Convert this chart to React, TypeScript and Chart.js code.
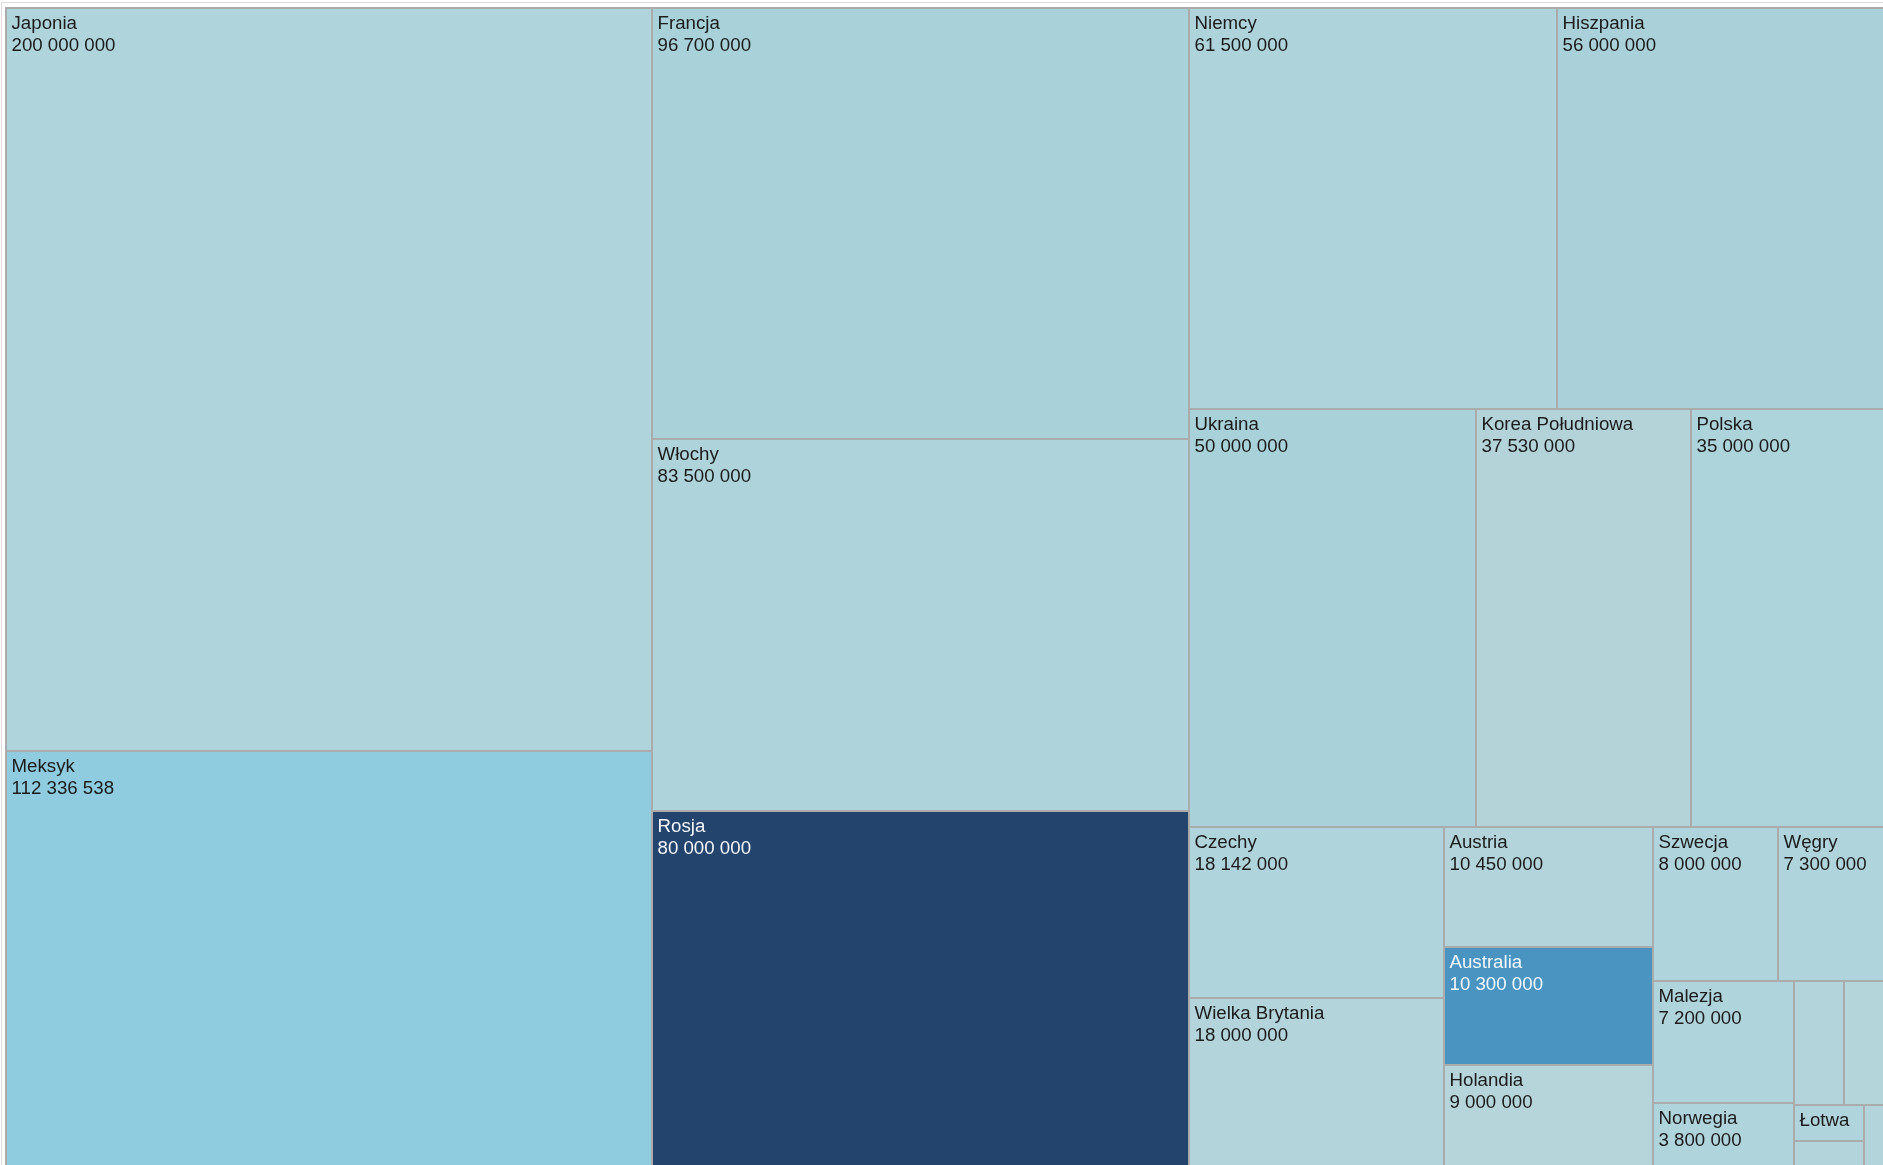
import React, { useEffect, useRef } from "react";
import { Chart, registerables } from "chart.js";

Chart.register(...registerables);

// ---- data ----
const COUNTRIES = [
  "Japonia", "Meksyk", "Francja", "Włochy", "Rosja", "Niemcy", "Hiszpania",
  "Ukraina", "Korea Południowa", "Polska", "Czechy", "Wielka Brytania",
  "Austria", "Australia", "Holandia", "Szwecja", "Węgry", "Malezja",
  "Norwegia", "Litwa", "Słowenia", "Łotwa", "Estonia", "Cypr",
];
const VALUES = [
  200000000, 112336538, 96700000, 83500000, 80000000, 61500000, 56000000,
  50000000, 37530000, 35000000, 18142000, 18000000,
  10450000, 10300000, 9000000, 8000000, 7300000, 7200000,
  3800000, 2600000, 2500000, 1050000, 800000, 750000,
];
// ---- styles (one fill per cell) ----
const FILLS = [
  "#afd4dc", "#8fcce0", "#a8d1da", "#aed3db", "#23446c", "#aed3db", "#aad1da",
  "#a9d1d9", "#b3d3d9", "#add3db", "#b0d4db", "#b2d4da",
  "#b3d4da", "#4a94c2", "#b5d5da", "#b0d4db", "#b0d4dc", "#afd4dc",
  "#b0d4dc", "#b3d4da", "#b4d5da", "#b0d4db", "#b3d4da", "#b3d4da",
];
const DARK_FILLS = ["#23446c", "#4a94c2"];

// treemap domain (aspect of the full map; visible window is smaller)
const MAP_W = 1886;
const MAP_H = 1160;

type Cell = { x0: number; y0: number; x1: number; y1: number };

function squarify(values: number[], W: number, H: number): Cell[] {
  const ratio = (1 + Math.sqrt(5)) / 2;
  const out: Cell[] = new Array(values.length);
  let x0 = 0, y0 = 0, x1 = W, y1 = H;
  let value = values.reduce((a, b) => a + b, 0);
  let i0 = 0, i1 = 0;
  const n = values.length;
  while (i0 < n) {
    const dx = x1 - x0, dy = y1 - y0;
    let sum = values[i1++];
    let minV = sum, maxV = sum;
    const alpha = Math.max(dy / dx, dx / dy) / (value * ratio);
    let beta = sum * sum * alpha;
    let minRatio = Math.max(maxV / beta, beta / minV);
    for (; i1 < n; ++i1) {
      const v = values[i1];
      sum += v;
      if (v < minV) minV = v;
      if (v > maxV) maxV = v;
      beta = sum * sum * alpha;
      const nr = Math.max(maxV / beta, beta / minV);
      if (nr > minRatio) { sum -= v; break; }
      minRatio = nr;
    }
    if (dx < dy) {
      const yy = y0 + (dy * sum) / value;
      const k = dx / sum;
      let cx = x0;
      for (let i = i0; i < i1; i++) {
        const w = values[i] * k;
        out[i] = { x0: cx, y0: y0, x1: cx + w, y1: yy };
        cx += w;
      }
      y0 = yy;
    } else {
      const xx = x0 + (dx * sum) / value;
      const k = dy / sum;
      let cy = y0;
      for (let i = i0; i < i1; i++) {
        const h = values[i] * k;
        out[i] = { x0: x0, y0: cy, x1: xx, y1: cy + h };
        cy += h;
      }
      x0 = xx;
    }
    value -= sum;
    i0 = i1;
  }
  return out;
}

const fmt = (v: number) => String(v).replace(/\B(?=(\d{3})+(?!\d))/g, " ");

const FONT = '18.7px "Liberation Sans", Arial, sans-serif';

const treemapPlugin = {
  id: "treemapCells",
  afterDatasetsDraw(chart: any) {
    const { ctx, chartArea, scales } = chart;
    const xs = scales.x, ys = scales.y;
    const items = chart.data.datasets[0].data as any[];
    ctx.save();
    ctx.beginPath();
    ctx.rect(chartArea.left - 2, chartArea.top - 2, chartArea.right - chartArea.left + 4, chartArea.bottom - chartArea.top + 4);
    ctx.clip();
    const px = items.map((c) => ({
      l: Math.round(xs.getPixelForValue(c.x0)),
      r: Math.round(xs.getPixelForValue(c.x1)),
      t: Math.round(ys.getPixelForValue(c.y0)),
      b: Math.round(ys.getPixelForValue(c.y1)),
    }));
    items.forEach((c, i) => {
      const p = px[i];
      ctx.fillStyle = c.fill;
      ctx.fillRect(p.l, p.t, p.r - p.l, p.b - p.t);
    });
    ctx.strokeStyle = "#ababab";
    ctx.lineWidth = 2;
    items.forEach((c, i) => {
      const p = px[i];
      ctx.strokeRect(p.l, p.t, p.r - p.l, p.b - p.t);
    });
    ctx.font = FONT;
    ctx.textBaseline = "alphabetic";
    ctx.textAlign = "left";
    items.forEach((c, i) => {
      const p = px[i];
      const w = p.r - p.l, h = p.b - p.t;
      ctx.fillStyle = DARK_FILLS.includes(c.fill) ? "#f4f7fb" : "#1b1b1b";
      const nameW = ctx.measureText(c.name).width;
      if (h >= 30 && w >= nameW + 10) {
        ctx.fillText(c.name, p.l + 5.5, p.t + 20.5);
        const label = fmt(c.value);
        const valW = ctx.measureText(label).width;
        if (h >= 48 && w >= valW + 10) ctx.fillText(label, p.l + 5.5, p.t + 42.5);
      }
    });
    ctx.restore();
  },
};

export default function App() {
  const ref = useRef<HTMLCanvasElement | null>(null);
  useEffect(() => {
    document.body.style.margin = "0";
    document.body.style.overflow = "hidden";
    if (!ref.current) return;
    const layout = squarify(VALUES, MAP_W, MAP_H);
    const data = layout.map((c, i) => ({
      x: (c.x0 + c.x1) / 2,
      y: (c.y0 + c.y1) / 2,
      x0: c.x0, x1: c.x1, y0: c.y0, y1: c.y1,
      name: COUNTRIES[i],
      value: VALUES[i],
      fill: FILLS[i],
    }));
    const chart = new Chart(ref.current, {
      type: "scatter",
      data: { datasets: [{ data: data as any, pointRadius: 0, pointHoverRadius: 0 }] },
      options: {
        responsive: false,
        animation: false,
        events: [],
        layout: { padding: { left: 6, top: 8, right: 0, bottom: 0 } },
        scales: {
          x: { type: "linear", min: 0, max: 1877, display: false },
          y: { type: "linear", min: 0, max: 1157, reverse: true, display: false },
        },
        plugins: { legend: { display: false }, tooltip: { enabled: false } },
      },
      plugins: [treemapPlugin],
    });
    return () => chart.destroy();
  }, []);
  return (
    <div style={{ position: "relative", width: 1883, height: 1165, background: "#fff" }}>
      <div
        style={{
          position: "absolute", left: 1, top: 2, right: 0, bottom: 0,
          borderTop: "1px solid #dedede", borderLeft: "1px solid #dedede",
        }}
      />
      <canvas ref={ref} width={1883} height={1165} style={{ display: "block", position: "relative" }} />
    </div>
  );
}
